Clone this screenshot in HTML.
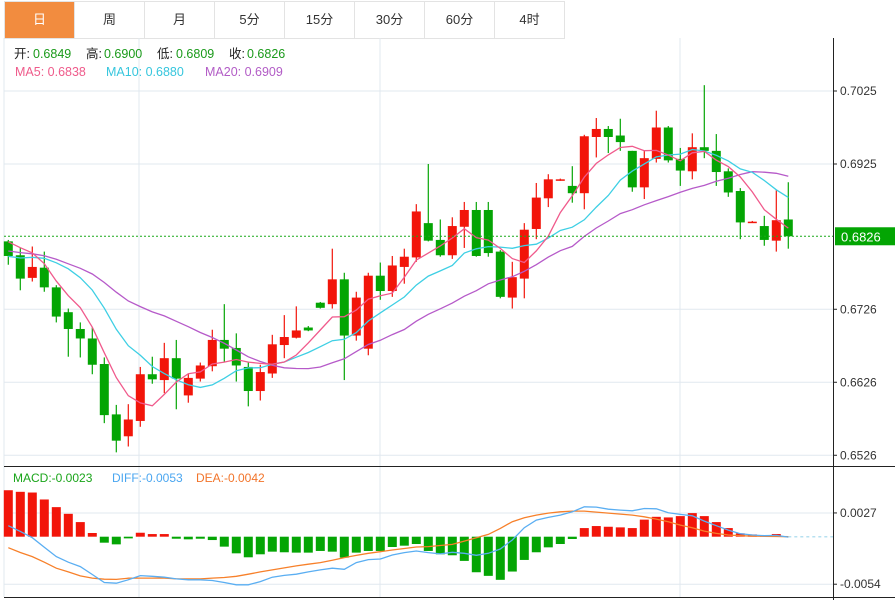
<!DOCTYPE html>
<html><head><meta charset="utf-8">
<style>
html,body{margin:0;padding:0;background:#fff;}
body{width:895px;height:600px;overflow:hidden;font-family:"Liberation Sans","Noto Sans CJK SC",sans-serif;position:relative;}
.tabs{position:absolute;left:4px;top:1px;height:36px;display:flex;border:1px solid #e3e3e3;border-right:none;}
.tab{width:69px;height:36px;line-height:36px;text-align:center;font-size:13px;color:#333;border-right:1px solid #e3e3e3;}
.tab.on{background:#f28c3f;color:#fff;}
svg{position:absolute;left:0;top:0;}
</style></head>
<body>
<div class="tabs">
<div class="tab on">日</div>
<div class="tab">周</div>
<div class="tab">月</div>
<div class="tab">5分</div>
<div class="tab">15分</div>
<div class="tab">30分</div>
<div class="tab">60分</div>
<div class="tab">4时</div>
</div>
<svg id="chart" width="895" height="600"></svg>
<script>
const opens=[.6819,.6800,.6769,.6783,.6756,.6722,.6699,.6686,.6651,.6582,.6552,.6573,.6637,.6629,.6659,.6608,.6631,.6648,.6684,.6673,.6647,.6614,.6638,.6677,.6687,.6701,.6735,.6733,.6767,.6690,.6672,.6772,.6751,.6784,.6797,.6844,.6821,.6800,.6839,.6862,.6862,.6805,.6742,.6768,.6836,.6878,.6902,.6895,.6885,.6962,.6973,.6964,.6943,.6893,.6932,.6975,.6932,.6915,.6948,.6943,.6915,.6888,.6846,.6840,.6820,.6849];
const closes=[.6799,.6768,.6784,.6756,.6716,.6699,.6686,.6650,.6581,.6546,.6575,.6637,.6630,.6659,.6631,.6632,.6649,.6684,.6672,.6649,.6614,.6640,.6678,.6688,.6697,.6697,.6728,.6767,.6690,.6742,.6772,.6751,.6786,.6798,.6860,.6820,.6800,.6840,.6862,.6799,.6803,.6743,.6770,.6835,.6879,.6904,.6904,.6885,.6963,.6973,.6962,.6955,.6893,.6933,.6975,.6930,.6916,.6948,.6943,.6914,.6886,.6845,.6846,.6821,.6848,.6826];
const highs=[.6821,.6810,.6812,.6805,.6759,.6727,.6708,.6701,.6660,.6595,.6596,.6647,.6661,.6680,.6684,.6638,.6653,.6698,.6733,.6693,.6654,.6650,.6691,.6718,.6730,.6703,.6736,.6809,.6776,.6750,.6776,.6790,.6799,.6809,.6870,.6925,.6849,.6852,.6873,.6873,.6873,.6807,.6791,.6844,.6899,.6911,.6905,.6922,.6965,.6988,.6977,.6987,.6943,.6943,.6998,.6977,.6947,.6967,.7033,.6966,.6919,.6892,.6847,.6854,.6889,.6900];
const lows=[.6787,.6752,.6764,.6750,.6708,.6661,.6660,.6637,.6570,.6530,.6538,.6565,.6624,.6611,.6589,.6598,.6627,.6641,.6654,.6627,.6593,.6601,.6632,.6659,.6686,.6696,.6727,.6727,.6629,.6683,.6663,.6739,.6743,.6761,.6791,.6819,.6798,.6795,.6810,.6798,.6798,.6741,.6727,.6741,.6822,.6866,.6902,.6872,.6863,.6934,.6940,.6943,.6887,.6877,.6927,.6927,.6895,.6904,.6933,.6895,.6880,.6822,.6845,.6813,.6805,.6809];
const priorCloses=[.6812,.6818,.6808,.6815,.6820,.6810,.6806,.6815,.6812,.6816,.6790,.6775,.6770,.6778,.6780,.6808,.6820,.6830,.6835];
const macdBars=[.00528,.0051,.00502,.00423,.00336,.0026,.00166,.00042,-.00068,-.00087,-.00019,.00045,.0003,.0003,-.00023,-.0003,-.00023,-.00038,-.00113,-.00189,-.00234,-.002,-.0017,-.00177,-.00181,-.00181,-.00162,-.0017,-.00238,-.00181,-.00162,-.00162,-.00117,-.00102,-.00083,-.00162,-.002,-.00211,-.00275,-.00404,-.00445,-.0049,-.00396,-.00264,-.00177,-.00121,-.00083,-.00026,.00098,.00121,.00113,.00106,.00098,.00194,.00226,.00219,.00234,.00268,.00234,.00166,.00098,.00038,.00026,.00011,.0003,0];
const diffVals=[.00125,.0006,-.00011,-.0012,-.00226,-.0029,-.0034,-.0043,-.0052,-.00528,-.0049,-.00442,-.0045,-.0046,-.0048,-.0049,-.0049,-.00498,-.0052,-.00547,-.00547,-.0051,-.0046,-.0044,-.00426,-.004,-.00377,-.00358,-.0037,-.00294,-.0026,-.00253,-.00208,-.00181,-.00162,-.00181,-.00196,-.00177,-.00189,-.00211,-.00189,-.0014,-.00038,.00102,.00189,.00219,.00245,.00283,.0034,.00336,.00313,.00302,.00294,.00321,.00317,.00272,.00253,.00238,.00177,.00125,.00075,.00034,.00019,.00011,.00015,-.00004];
const deaVals=[-.00125,-.0018,-.00226,-.0029,-.00358,-.004,-.00445,-.0047,-.00483,-.00485,-.00472,-.0047,-.0047,-.0047,-.0048,-.0048,-.0048,-.0047,-.00464,-.0045,-.00426,-.004,-.00377,-.00355,-.00332,-.00313,-.00294,-.00268,-.00238,-.00212,-.00189,-.0017,-.00151,-.00134,-.00117,-.00113,-.001,-.00087,-.0005,-.00011,.00026,.00094,.0017,.00215,.00245,.00268,.00283,.00291,.00291,.00279,.00268,.00257,.00245,.00226,.002,.0017,.00132,.00102,.00064,.00038,.00019,.00011,.00007,.00004,.00002,0];
const priceTicks=[0.7025,0.6925,0.6826,0.6726,0.6626,0.6526];
const macdTicks=[0.0027,-0.0054];

const NS="http://www.w3.org/2000/svg";
const svg=document.getElementById('chart');
function mk(tag,attrs,parent){const e=document.createElementNS(NS,tag);for(const k in attrs)e.setAttribute(k,attrs[k]);(parent||svg).appendChild(e);return e;}
const xAt=i=>8.3+12*i;
const yP=v=>91+(0.7025-v)*7300;
const yM=v=>536.7-v*8800;
const RED="#f2150a",GREEN="#04a504";

// grid
const grid=mk('g',{});


priceTicks.forEach(t=>{if(t!==0.6826)mk('line',{x1:4,x2:833,y1:yP(t),y2:yP(t),stroke:"#e1e8ef","stroke-width":1},grid);});
macdTicks.forEach(t=>mk('line',{x1:4,x2:833,y1:yM(t),y2:yM(t),stroke:"#e1e8ef","stroke-width":1},grid));
[139,380,680].forEach(x=>mk('line',{x1:x,x2:x,y1:38,y2:597,stroke:"#e1e8ef","stroke-width":1},grid));
mk('line',{x1:4,x2:4,y1:38,y2:597,stroke:"#e1e8ef"},grid);
// frame
mk('line',{x1:833.5,x2:833.5,y1:38,y2:600,stroke:"#222","stroke-width":1});
mk('line',{x1:4,x2:895,y1:466.5,y2:466.5,stroke:"#222","stroke-width":1});
mk('line',{x1:4,x2:895,y1:597.5,y2:597.5,stroke:"#222","stroke-width":1});

// axis labels
const ax=mk('g',{'font-size':12,fill:"#333","font-family":"Liberation Sans, sans-serif"});


priceTicks.forEach(t=>{if(t===0.6826)return;const y=yP(t);mk('line',{x1:833,x2:837,y1:y,y2:y,stroke:"#222"},ax);const tx=mk('text',{x:840,y:y+4},ax);tx.textContent=t.toFixed(4);});
macdTicks.forEach(t=>{const y=yM(t);mk('line',{x1:833,x2:837,y1:y,y2:y,stroke:"#222"},ax);const tx=mk('text',{x:840,y:y+4},ax);tx.textContent=t.toFixed(4);});

// candles
const cg=mk('g',{});


for(let i=0;i<opens.length;i++){
  const o=opens[i],c=closes[i],col=c>=o?RED:GREEN,x=xAt(i);
  const g=mk('g',{},cg);
  
  
  mk('line',{x1:x,x2:x,y1:yP(highs[i]),y2:yP(lows[i]),stroke:col,"stroke-width":1.2},g);
  const yt=Math.min(yP(o),yP(c)),h=Math.max(1.5,Math.abs(yP(o)-yP(c)));
  mk('rect',{x:x-4.5,y:yt,width:9,height:h,fill:col},g);
}
// MAs
const allC=priorCloses.concat(closes);
function ma(n){const r=[];for(let i=0;i<closes.length;i++){const k=i+priorCloses.length;let s=0,cnt=0;for(let j=Math.max(0,k-n+1);j<=k;j++){s+=allC[j];cnt++;}r.push(s/cnt);}return r;}
function line(vals,fy,col,name,w){const p=vals.map((v,i)=>(i?'L':'M')+xAt(i).toFixed(1)+' '+fy(v).toFixed(1)).join(' ');const e=mk('path',{d:p,fill:'none',stroke:col,'stroke-width':w||1.3});return e;}
line(ma(20),yP,"#b65ac9","ma20-line");
line(ma(10),yP,"#3ecfe4","ma10-line");
line(ma(5),yP,"#f05a8c","ma5-line");

// current price
const cp=closes[closes.length-1];
const cpl=mk('line',{x1:4,x2:833,y1:yP(cp),y2:yP(cp),stroke:"#1aa81a","stroke-dasharray":"2,2","stroke-width":1});


const cpb=mk('rect',{x:835,y:yP(cp)-9,width:60,height:18,fill:"#03a503"});


const cpt=mk('text',{x:841,y:yP(cp)+5,'font-size':13,fill:"#fff","font-family":"Liberation Sans, sans-serif"});
cpt.textContent=cp.toFixed(4);

// MACD
const zl=mk('line',{x1:xAt(macdBars.length-1),x2:833,y1:yM(0),y2:yM(0),stroke:"#b7e0f0","stroke-dasharray":"3,3","stroke-width":1.5});


const mg=mk('g',{});


macdBars.forEach((v,i)=>{const y0=yM(0),y1=yM(v);const r=mk('rect',{x:xAt(i)-4.5,y:Math.min(y0,y1),width:9,height:Math.abs(y1-y0),fill:v>=0?RED:GREEN},mg);});
line(deaVals,yM,"#f7802a","dea-line");
line(diffVals,yM,"#5aaef2","diff-line");

// legends
function txt(x,y,s,col,name,size){const t=mk('text',{x:x,y:y,'font-size':size||12.5,fill:col,"font-family":"Liberation Sans, Noto Sans CJK SC, sans-serif"});t.textContent=s;return t;}
const L1=[["开:",14,"#222"],["0.6849",33,"#1a9a1a"],["高:",86,"#222"],["0.6900",104,"#1a9a1a"],["低:",157,"#222"],["0.6809",176,"#1a9a1a"],["收:",229,"#222"],["0.6826",247,"#1a9a1a"]];
L1.forEach(a=>txt(a[1],58,a[0],a[2],'ohlc-legend'));
txt(15,76,"MA5: 0.6838","#ef5b8b",'ma5-legend');
txt(106,76,"MA10: 0.6880","#36c6dd",'ma10-legend');
txt(205,76,"MA20: 0.6909","#b25cc6",'ma20-legend');
txt(13,482,"MACD:-0.0023","#1aa51a",'macd-legend',12);
txt(112,482,"DIFF:-0.0053","#4aa6f0",'diff-legend',12);
txt(196,482,"DEA:-0.0042","#f2742a",'dea-legend',12);
</script>
</body></html>
